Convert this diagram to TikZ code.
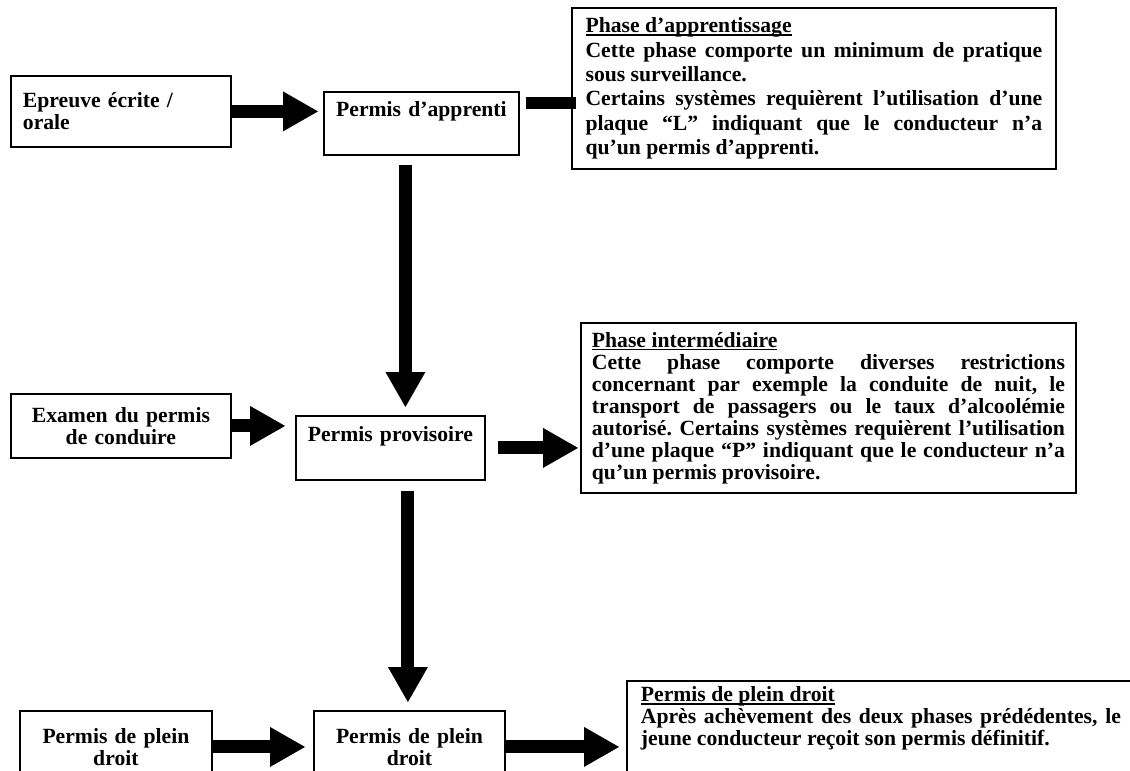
\documentclass[tikz,border=0pt]{standalone}
\usepackage{fontspec}
\setmainfont{Liberation Serif}
\usepackage{tikz}
\usetikzlibrary{arrows.meta}
\setlength{\parindent}{0pt}
\hyphenpenalty=10000
\exhyphenpenalty=10000
\tolerance=10000
\frenchspacing
% underlined heading that keeps the line spacing
\newcommand{\titel}[1]{\setbox0\hbox{#1}\rlap{\rule[-1.8pt]{\wd0}{0.8pt}}\box0}

\begin{document}
\begin{tikzpicture}[x=0.6pt, y=-0.6pt,
        every node/.style={draw, line width=1.1pt, anchor=north west,
                           font=\fontsize{13}{13.2}\selectfont\bfseries},
        box/.style={align=center, inner xsep=4pt},
        phase/.style={align=justify},
        fat/.style={line width=7.8pt,
                    -{Triangle[width=24pt, length=21pt, line width=0pt]}},
        bar/.style={line width=7pt}]
      \useasboundingbox (0,0) rectangle (1130,770);
      \fill[white] (0,0) rectangle (1130,770);
      \clip (0,0) rectangle (1130,770);
      % left column
      \node[box, align=left, inner xsep=7.2pt, text width=117.6pt,
            minimum height=42.6pt] (ecr) at (10,75)  {Epreuve écrite /\\orale};
      \node[box, inner xsep=7.2pt, text width=117.6pt,
            minimum height=38.4pt] (exa) at (10,393) {Examen du permis\\de conduire};
      \node[box, text width=107.2pt, minimum height=43.2pt] (pd1) at (19,710) {Permis de plein\\droit};
      % middle column
      \node[box, text width=109pt,   minimum height=37.8pt] (app) at (323,91)  {Permis d’apprenti\\\strut};
      \node[box, text width=105.4pt, minimum height=38.4pt] (pro) at (295,415) {Permis provisoire\\\strut};
      \node[box, text width=106.6pt, minimum height=43.2pt] (pd2) at (313,710) {Permis de plein\\droit};
      % right column
      \node[phase, text width=274pt, inner xsep=8.2pt, minimum height=96.6pt,
            font=\fontsize{13}{14.6}\selectfont\bfseries] (ph1) at (571,7) {%
        \titel{Phase d’apprentissage}\par
        Cette phase comporte un minimum de pratique\linebreak sous surveillance.\par
        Certains systèmes requièrent l’utilisation d’une\linebreak plaque “L” indiquant que le conducteur n’a\linebreak qu’un permis d’apprenti.};
      \node[phase, text width=283.8pt, inner xsep=6.6pt, minimum height=102pt] (ph2) at (580,322) {%
        \titel{Phase intermédiaire}\par
        Cette phase comporte diverses restrictions\linebreak concernant par exemple la conduite de nuit, le\linebreak transport de passagers ou le taux d’alcoolémie\linebreak autorisé. Certains systèmes requièrent l’utilisation\linebreak d’une plaque “P” indiquant que le conducteur n’a\linebreak qu’un permis provisoire.};
      \node[phase, text width=288pt, inner xsep=8.4pt] (ph3) at (626,680) {%
        \titel{Permis de plein droit}\par
        Après achèvement des deux phases prédédentes, le\linebreak jeune conducteur reçoit son permis définitif.\par\strut};
      \coordinate (bs) at ([shift={(3.6pt,-7.2pt)}]app.north east);
      % arrows
      \draw[fat, shorten >=3pt] (ecr.east) -- (ecr.east -| app.west);
      \draw[bar, shorten >=-3pt] (bs) -- (bs -| ph1.west);
      \draw[fat, shorten <=5.4pt, shorten >=4.8pt] ([xshift=-9.6pt]app.south) -- ([xshift=-9.6pt]app.south |- pro.north);
      \draw[fat, shorten >=6pt] (exa.east) -- (exa.east -| pro.west);
      \draw[fat, shorten <=7.2pt, shorten >=1.2pt] (pro.east) -- (pro.east -| ph2.west);
      \draw[fat, shorten <=6pt, shorten >=4.8pt] ([xshift=10.5pt]pro.south) -- ([xshift=10.5pt]pro.south |- pd2.north);
      \draw[fat, shorten >=4.8pt] (pd1.east) -- (pd1.east -| pd2.west);
      \draw[fat, shorten >=4.2pt] (pd2.east) -- (pd2.east -| ph3.west);
    \end{tikzpicture}
\end{document}
